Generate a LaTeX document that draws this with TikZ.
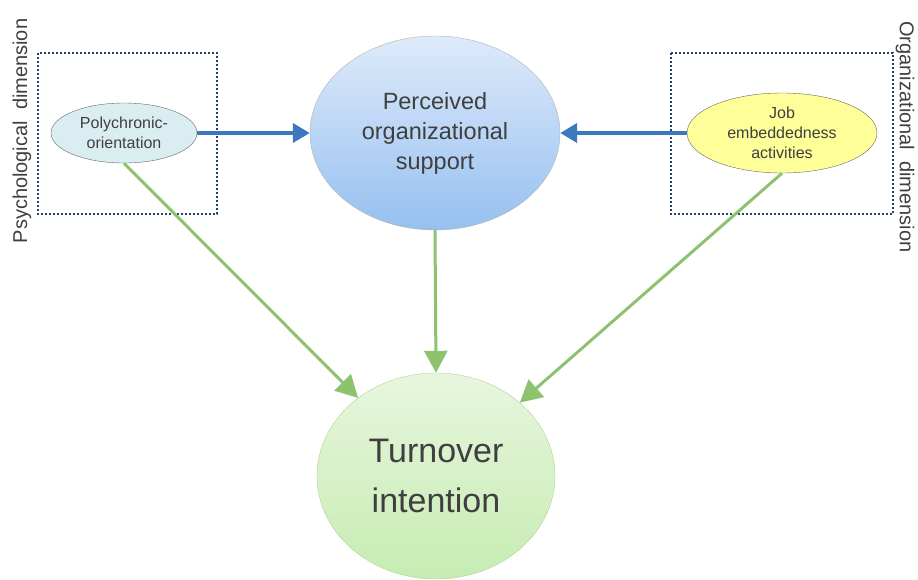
\documentclass[tikz,border=0pt]{standalone}
\usepackage{fontspec}
\setmainfont{Liberation Sans}
\usetikzlibrary{shapes.geometric,arrows.meta}
\definecolor{txt}{HTML}{3F3F3F}
\definecolor{boxline}{HTML}{24406E}
\definecolor{bluearrow}{HTML}{3C78BE}
\definecolor{greenarrow}{HTML}{8DC26F}
\tikzset{
  blob/.style={ellipse, inner sep=0pt, align=center, text=txt, draw=#1},
  groupbox/.style={draw=boxline, line width=2.4pt, dash pattern=on 2pt off 2pt},
  bluelink/.style={draw=bluearrow, line width=4pt, -{Triangle[length=17pt,width=19pt]}},
  greenlink/.style={draw=greenarrow, line width=3pt, -{Triangle[length=22pt,width=23pt]}},
  sidelabel/.style={text=txt, font=\fontsize{20}{24}\selectfont}
}
\begin{document}
\begin{tikzpicture}[x=1pt,y=-1pt]
\useasboundingbox (0,0) rectangle (918,579);

% dotted group frames
\draw[groupbox] (38,53) rectangle (217,214);
\draw[groupbox] (671,53) rectangle (893,214);

% side captions
\node[sidelabel, rotate=90] (psy) at (22,131) {Psychological\ \ dimension};
\node[sidelabel, rotate=-90] (org) at (905,137) {Organizational\ \ dimension};

% concept ellipses
\node[blob=gray!80!black, fill={rgb,255:red,218;green,238;blue,242},
      minimum width=146pt, minimum height=60pt,
      font=\fontsize{16}{20}\selectfont] (poly) at (124,133) {Polychronic-\\orientation};
\node[blob=gray!80!black, fill={rgb,255:red,255;green,255;blue,153},
      minimum width=190pt, minimum height=80pt,
      font=\fontsize{16}{20}\selectfont] (job) at (782,133) {Job\\embeddedness\\activities};
\node[blob=gray!60, top color={rgb,255:red,222;green,234;blue,250},
      bottom color={rgb,255:red,150;green,192;blue,240},
      minimum width=250pt, minimum height=194pt,
      font=\fontsize{23.5}{30}\selectfont] (pos) at (435,133) {Perceived\\organizational\\support};
\node[blob=greenarrow!70, top color={rgb,255:red,232;green,246;blue,222},
      bottom color={rgb,255:red,198;green,236;blue,178},
      minimum width=238pt, minimum height=206pt,
      font=\fontsize{34}{50}\selectfont] (turn) at (436,476) {Turnover\\intention};

% connectors
\draw[bluelink] (poly.east) -- (pos.west);
\draw[bluelink] (job.west) -- (pos.east);
\draw[greenlink] (poly.south) -- (turn);
\draw[greenlink] (pos.south) -- (turn.north);
\draw[greenlink] (job.south) -- (turn);
\end{tikzpicture}
\end{document}
